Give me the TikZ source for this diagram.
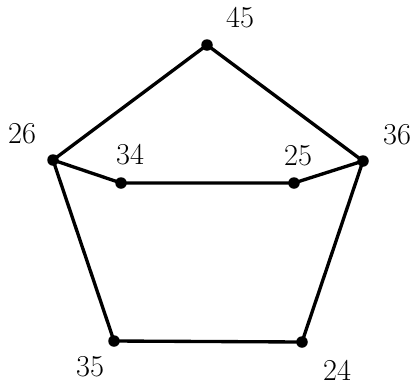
\documentclass[tikz,border=0pt]{standalone}
\begin{document}
\begin{tikzpicture}[x=0.02cm,y=-0.02cm,
  vtx/.style={circle,fill=black,inner sep=0pt,minimum size=0.23cm},
  lbl/.style={font=\LARGE},
  edge/.style={line width=1.9pt,line join=round}]
\useasboundingbox (0,0) rectangle (412,386);
\node[vtx] (v45) at (207,45) {};
\node[vtx] (v26) at (53,160) {};
\node[vtx] (v36) at (363,161) {};
\node[vtx] (v34) at (121,183) {};
\node[vtx] (v25) at (294,183) {};
\node[vtx] (v35) at (114,341) {};
\node[vtx] (v24) at (302,342) {};
\node[lbl] (l45) at (240,18) {45};
\node[lbl] (l26) at (22,134) {26};
\node[lbl] (l36) at (397,135) {36};
\node[lbl] (l34) at (130,155) {34};
\node[lbl] (l25) at (298,156) {25};
\node[lbl] (l35) at (90,367) {35};
\node[lbl] (l24) at (337,370) {24};
\draw[edge] (v45.center) -- (v26.center) -- (v35.center) -- (v24.center) -- (v36.center) -- cycle;
\draw[edge] (v26.center) -- (v34.center) -- (v25.center) -- (v36.center);
\end{tikzpicture}
\end{document}
